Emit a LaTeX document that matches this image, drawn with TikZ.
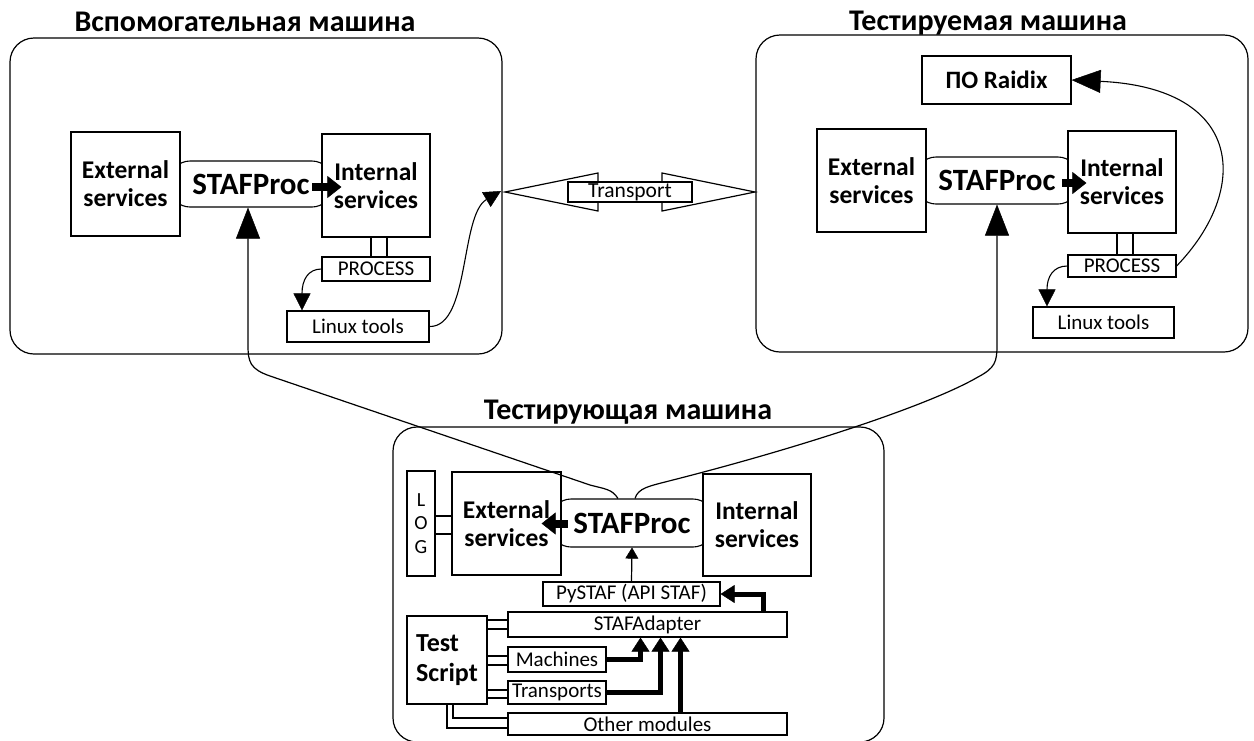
\documentclass[tikz,border=0pt]{standalone}
\usepackage{fontspec}
\setmainfont{Carlito}
\usetikzlibrary{arrows.meta}

\begin{document}
\begin{tikzpicture}[x=1pt,y=-1pt,
  frame/.style={draw, line width=1.2pt, rounded corners=24pt, inner sep=0pt},
  box/.style={draw, fill=white, line width=1.2pt, inner sep=0pt, align=center},
  stadium/.style={draw, fill=white, line width=1.1pt, rounded corners=20pt, inner sep=0pt},
  title/.style={font=\fontsize{30}{34}\selectfont\bfseries},
  big/.style={font=\fontsize{25.5}{28}\selectfont\bfseries},
  staf/.style={font=\fontsize{31}{34}\selectfont\bfseries},
  small/.style={font=\fontsize{21}{24}\selectfont},
  link/.style={line width=1.2pt},
  longarrow/.style={line width=1.2pt, -{Triangle[length=31pt,width=24pt,line width=0.5pt]}},
  curvearrow/.style={line width=1.1pt, -{Triangle[length=17pt,width=17pt,line width=0.5pt]}},
  fatarrow/.style={line width=8pt, -{Triangle[length=14pt,width=22pt,line width=0.5pt]}},
  busarrow/.style={line width=5pt, -{Triangle[length=14pt,width=18pt,line width=0.5pt]}},
  thinarrow/.style={line width=1.2pt, -{Triangle[length=11pt,width=13pt,line width=0.5pt]}}]

\useasboundingbox (0,0) rectangle (1254,740);
\fill[white] (0,0) rectangle (1254,740);

% ---------- auxiliary machine ----------
\node[frame, minimum width=492pt, minimum height=316pt] (frameA) at (256,196) {};
\node[title] (titleA) at (245,22) {Вспомогательная машина};
\node[stadium, staf, minimum width=162pt, minimum height=46pt] (stafA) at (251,184) {STAFProc};
\node[box, big, minimum width=109pt, minimum height=104pt] (extA) at (125.5,184) {External\\services};
\node[box, big, minimum width=108pt, minimum height=103pt] (intA) at (376,185.5) {Internal\\services};
\node[box, small, minimum width=108pt, minimum height=24pt] (procA) at (376,269) {PROCESS};
\node[box, small, minimum width=142pt, minimum height=31pt] (toolsA) at (358,326.5) {Linux tools};

% ---------- machine under test ----------
\node[frame, minimum width=492pt, minimum height=317pt] (frameB) at (1002,193.5) {};
\node[title] (titleB) at (988,23) {Тестируемая машина};
\node[box, font=\fontsize{25}{28}\selectfont\bfseries, minimum width=149pt, minimum height=48pt] (raidix) at (996.5,80) {ПО Raidix};
\node[stadium, staf, minimum width=162pt, minimum height=47pt] (stafB) at (997,180.5) {STAFProc};
\node[box, big, minimum width=109pt, minimum height=103pt] (extB) at (871.5,180.5) {External\\services};
\node[box, big, minimum width=108pt, minimum height=102pt] (intB) at (1122,182) {Internal\\services};
\node[box, small, minimum width=108pt, minimum height=22pt] (procB) at (1122,266) {PROCESS};
\node[box, small, minimum width=141pt, minimum height=31pt] (toolsB) at (1103.5,322.5) {Linux tools};

% ---------- transport between the two ----------
\coordinate (tL) at (505,192);
\coordinate (tR) at (755,192);
\draw[link] (tL) -- (598,173) -- (598,182) -- (662,182) -- (662,173) -- (tR)
  -- (662,211) -- (662,202) -- (598,202) -- (598,211) -- cycle;
\node[box, font=\fontsize{21.5}{24}\selectfont, minimum width=124pt, minimum height=20pt] (transport) at (630,192) {Transport};
\coordinate (tIn) at ([xshift=-4pt,yshift=1pt]tL);

% ---------- testing machine ----------
\node[frame, minimum width=491pt, minimum height=315pt] (frameC) at (638.5,584.5) {};
\node[title] (titleC) at (628,412) {Тестирующая машина};
\node[stadium, staf, minimum width=162pt, minimum height=48pt] (stafC) at (632,523) {STAFProc};
\node[box, big, minimum width=109pt, minimum height=103pt] (extC) at (506.5,523.5) {External\\services};
\node[box, big, minimum width=108pt, minimum height=102pt] (intC) at (757,525) {Internal\\services};
\node[box, font=\fontsize{20}{23.5}\selectfont, minimum width=28pt, minimum height=105pt] (logC) at (421,523.5) {L\\O\\G};
\node[box, small, minimum width=177pt, minimum height=24pt] (pyC) at (631.5,594) {PySTAF (API STAF)};
\node[box, small, minimum width=279pt, minimum height=25pt] (adC) at (647.5,624.5) {STAFAdapter};
\node[box, font=\fontsize{26}{30}\selectfont\bfseries, align=left, minimum width=80pt, minimum height=88pt] (tsC) at (447,660) {Test\\Script};
\node[box, small, minimum width=98pt, minimum height=25pt] (maC) at (557,659.5) {Machines};
\node[box, small, minimum width=98pt, minimum height=23pt] (trC) at (557,692.5) {Transports};
\node[box, small, minimum width=279pt, minimum height=22pt] (otC) at (647.5,724) {Other modules};

% ---------- links ----------
\foreach \m in {A,B} {
  \draw[link] ([xshift=-5pt]int\m.south) -- ([xshift=-5pt]proc\m.north);
  \draw[link] ([xshift=11pt]int\m.south) -- ([xshift=11pt]proc\m.north);
}
\draw[link] ([yshift=7.5pt]extC.west -| logC.east) -- ([yshift=7.5pt]extC.west);
\draw[link] ([yshift=-10.5pt]extC.west -| logC.east) -- ([yshift=-10.5pt]extC.west);
\foreach \n/\a/\b in {adC/4.5/-4.5, maC/3.5/-5.5, trC/2.5/-5.5} {
  \draw[link] ([yshift=\a pt]\n.west -| tsC.east) -- ([yshift=\a pt]\n.west);
  \draw[link] ([yshift=\b pt]\n.west -| tsC.east) -- ([yshift=\b pt]\n.west);
}
\draw[link] (tsC.south) |- ([yshift=-4pt]otC.west);
\draw[link] ([xshift=6pt]tsC.south) |- ([yshift=6pt]otC.west);

% ---------- arrows ----------
\draw[curvearrow] (procA.west) .. controls (308,269) and (302,280) .. ([xshift=-56pt]toolsA.north);
\draw[curvearrow] (procB.west) .. controls (1053,266) and (1047,277) .. ([xshift=-56.5pt]toolsB.north);
\draw[curvearrow] (toolsA.east) .. controls (470,327) and (460,215) .. (tIn);
\draw[line width=1.1pt, -{Triangle[length=29pt,width=23pt,line width=0.5pt]}]
  (procB.east) .. controls (1250,190) and (1245,88) .. (raidix.east);

\draw[longarrow] ([xshift=-14pt]stafC.north) .. controls (612,489) and (605,489) .. (590,485)
  -- (270,376) .. controls (250,369) and (248,362) .. (248,345) -- ([xshift=-3pt]stafA.south);
\draw[longarrow] ([xshift=3pt]stafC.north) .. controls (638,488) and (650,486) .. (665,482)
  .. controls (800,448) and (930,405) .. (978,377) .. controls (995,368) and (997,362) .. (997,345)
  -- (stafB.south);

\draw[fatarrow] ([xshift=-9pt,yshift=-1.5pt]intA.west) -- ([xshift=20pt,yshift=-1.5pt]intA.west);
\draw[fatarrow] ([xshift=-5pt,yshift=-1pt]intB.west) -- ([xshift=19pt,yshift=-1pt]intB.west);
\draw[fatarrow] ([xshift=6pt]extC.east) -- ([xshift=-20pt]extC.east);

\draw[busarrow] ([xshift=116pt]adC.north) |- (pyC.east);
\draw[busarrow] (maC.east) -| ([xshift=-7pt]adC.south);
\draw[busarrow] (trC.east) -| ([xshift=13pt]adC.south);
\draw[busarrow] ([xshift=33pt]otC.north) -- ([xshift=33pt]adC.south);
\draw[thinarrow] (pyC.north) -- (stafC.south);
\end{tikzpicture}
\end{document}
